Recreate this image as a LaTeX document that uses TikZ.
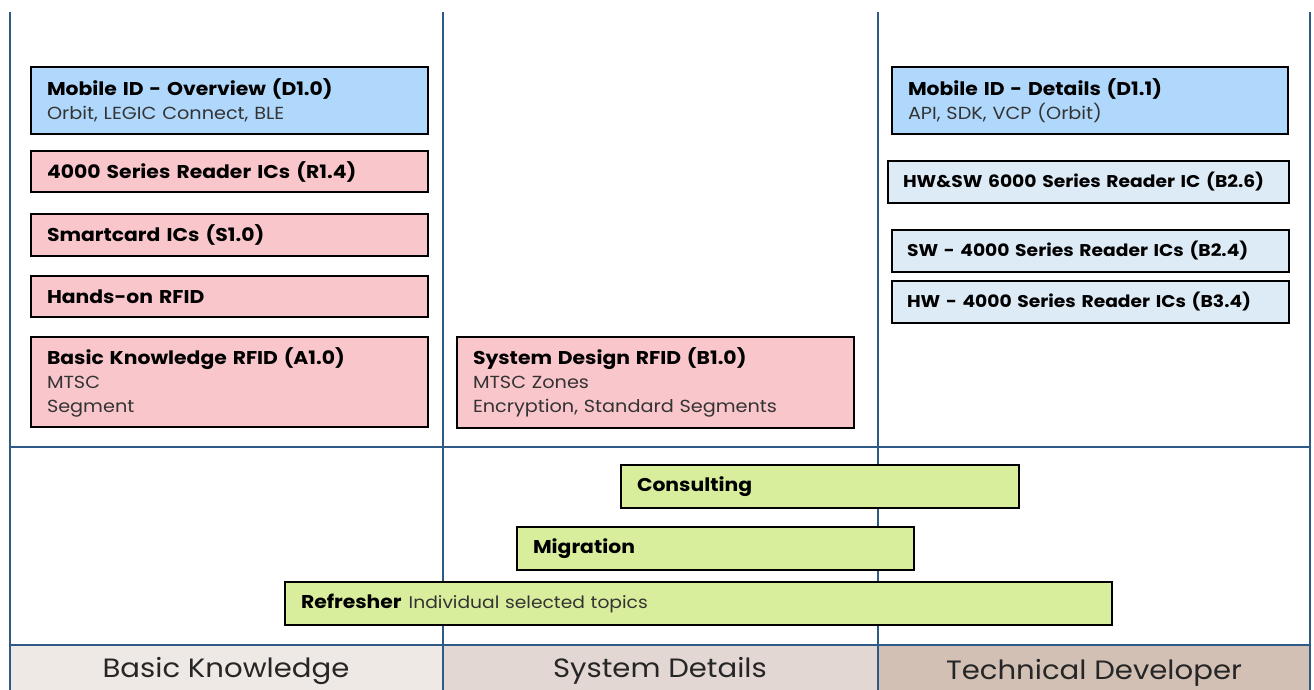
\documentclass[tikz,border=0pt]{standalone}
\usepackage{fontspec}
\setmainfont{Poppins}[FakeStretch=1.1]
\begin{document}
\begin{tikzpicture}[x=1pt,y=-1pt,
  colline/.style={draw=linecol,line width=1.5pt},
  boxbase/.style={draw=black,line width=2pt,anchor=north west,rectangle,inner xsep=16pt,inner ysep=0pt,align=left},
  pinkbox/.style={boxbase,fill=pinkf},
  bluebox/.style={boxbase,fill=bluef},
  lbluebox/.style={boxbase,fill=lbluef},
  greenbox/.style={boxbase,fill=greenf},
  ttl/.style={font=\fontsize{18.5}{24}\selectfont\bfseries},
  ttlsmall/.style={font=\fontsize{17}{24}\selectfont\bfseries},
  multi/.style={font=\fontsize{17.5}{24}\selectfont},
  bandlbl/.style={font=\fontsize{26.5}{30}\selectfont,text=black!85}
]
\definecolor{linecol}{HTML}{2E5A87}
\definecolor{pinkf}{HTML}{F9C6CB}
\definecolor{bluef}{HTML}{B0D8FC}
\definecolor{lbluef}{HTML}{DDEBF7}
\definecolor{greenf}{HTML}{D9EE9C}
\definecolor{subgray}{HTML}{333333}
\definecolor{band1}{HTML}{EFE9E5}
\definecolor{band2}{HTML}{E2D7D2}
\definecolor{band3}{HTML}{D3C0B5}
\newcommand{\myhd}[1]{{\fontsize{18.5}{24}\selectfont\bfseries #1}}
\newcommand{\mysb}[1]{{\color{subgray}#1}}
\useasboundingbox (0,0) rectangle (1314,690);
\fill[white] (0,0) rectangle (1314,690);
% bottom band
\fill[band1] (10,645) rectangle (443,690);
\fill[band2] (443,645) rectangle (878,690);
\fill[band3] (878,645) rectangle (1310,690);
\node[bandlbl] (lb1) at (226,671) {Basic Knowledge};
\node[bandlbl] (lb2) at (660,671) {System Details};
\node[bandlbl] (lb3) at (1094,673) {Technical Developer};
% grid lines
\draw[colline] (10,12) -- (10,690);
\draw[colline] (443,12) -- (443,690);
\draw[colline] (878,12) -- (878,690);
\draw[colline] (1310,12) -- (1310,690);
\draw[colline] (10,447) -- (1310,447);
\draw[colline] (10,645) -- (1310,645);
% left column
\node[bluebox,multi,minimum width=397pt,minimum height=67pt,text width=365pt] (d10) at (30,66)
  {\myhd{Mobile ID - Overview (D1.0)}\\\mysb{Orbit, LEGIC Connect, BLE}};
\node[pinkbox,minimum width=397pt,minimum height=41pt,text width=365pt,ttl] (r14) at (30,150) {4000 Series Reader ICs (R1.4)};
\node[pinkbox,minimum width=397pt,minimum height=42pt,text width=365pt,ttl] (s10) at (30,213) {Smartcard ICs (S1.0)};
\node[pinkbox,minimum width=397pt,minimum height=41pt,text width=365pt,ttl] (hor) at (30,275) {Hands-on RFID};
\node[pinkbox,multi,minimum width=397pt,minimum height=90pt,text width=365pt] (a10) at (30,336)
  {\myhd{Basic Knowledge RFID (A1.0)}\\\mysb{MTSC}\\\mysb{Segment}};
\node[pinkbox,multi,minimum width=397pt,minimum height=91pt,text width=365pt] (b10) at (456,336)
  {\myhd{System Design RFID (B1.0)}\\\mysb{MTSC Zones}\\\mysb{Encryption, Standard Segments}};
% right column
\node[bluebox,multi,minimum width=396pt,minimum height=67pt,text width=364pt] (d11) at (891,66)
  {\myhd{Mobile ID - Details (D1.1)}\\\mysb{API, SDK, VCP (Orbit)}};
\node[lbluebox,minimum width=401pt,minimum height=42pt,text width=371pt,inner xsep=15pt,ttlsmall] (b26) at (887,160) {HW\&SW 6000 Series Reader IC (B2.6)};
\node[lbluebox,minimum width=397pt,minimum height=42pt,text width=367pt,inner xsep=15pt,ttlsmall] (b24) at (891,229) {SW - 4000 Series Reader ICs (B2.4)};
\node[lbluebox,minimum width=397pt,minimum height=42pt,text width=367pt,inner xsep=15pt,ttlsmall] (b34) at (891,280) {HW - 4000 Series Reader ICs (B3.4)};
% green bars
\node[greenbox,minimum width=398pt,minimum height=43pt,text width=366pt,ttl] (con) at (620,464) {Consulting};
\node[greenbox,minimum width=397pt,minimum height=43pt,text width=365pt,ttl] (mig) at (516,526) {Migration};
\node[greenbox,minimum width=827pt,minimum height=43pt,text width=795pt,font=\fontsize{17}{24}\selectfont] (ref) at (284,581)
  {\myhd{Refresher}\hspace{7pt}\mysb{Individual selected topics}};
\end{tikzpicture}
\end{document}
